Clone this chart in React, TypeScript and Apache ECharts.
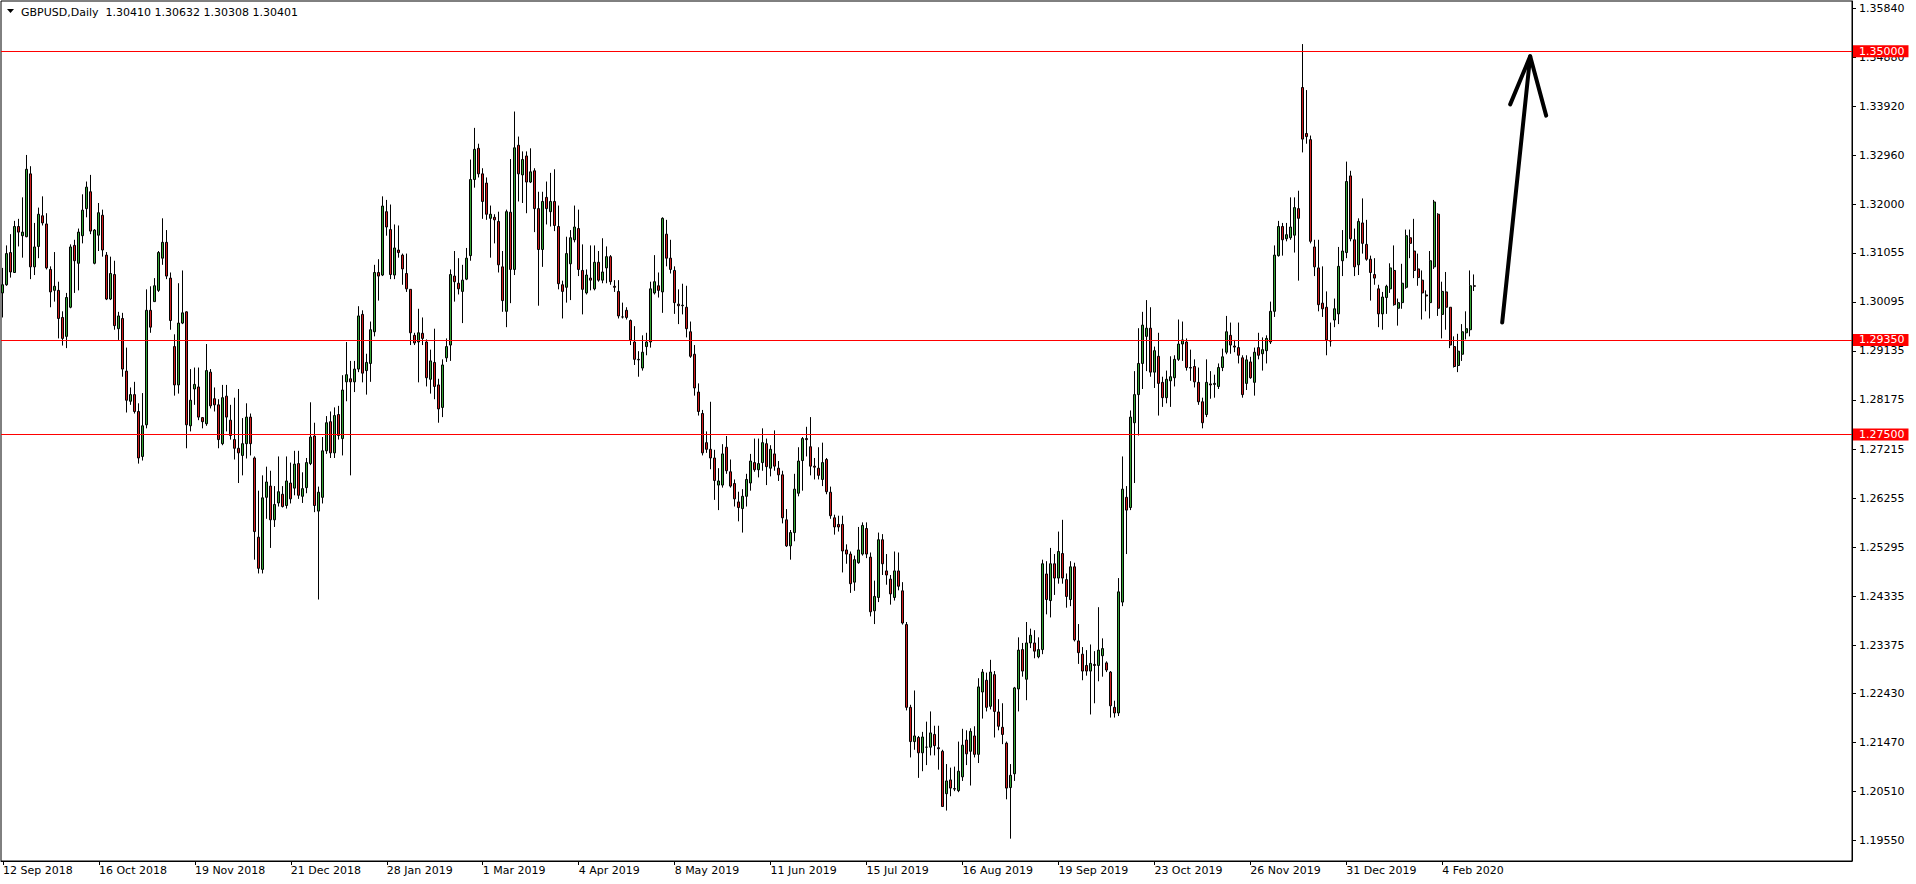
import React, { useEffect, useRef } from "react";
import * as echarts from "echarts";

const FONT = "DejaVu Sans";
const UP = "#33a333";
const DOWN = "#d01c1c";

const TITLE = "GBPUSD,Daily  1.30410 1.30632 1.30308 1.30401";

const OPEN = [
  1.3027, 1.3043, 1.3106, 1.3067, 1.3157, 1.3139, 1.3137, 1.3260, 1.3078, 1.3118,
  1.3178, 1.3162, 1.3073, 1.3032, 1.3032, 1.2979, 1.2942, 1.2999, 1.3120, 1.3085,
  1.3139, 1.3192, 1.3225, 1.3085, 1.3140, 1.3179, 1.3101, 1.3015, 1.3063, 1.2957,
  1.2977, 1.2874, 1.2815, 1.2828, 1.2795, 1.2707, 1.2769, 1.2993, 1.3010, 1.3032,
  1.3095, 1.3126, 1.3056, 1.2922, 1.2847, 1.2968, 1.2990, 1.2767, 1.2839, 1.2843,
  1.2783, 1.2771, 1.2872, 1.2820, 1.2808, 1.2732, 1.2825, 1.2778, 1.2740, 1.2723,
  1.2709, 1.2732, 1.2784, 1.2704, 1.2549, 1.2486, 1.2627, 1.2649, 1.2583, 1.2616,
  1.2633, 1.2611, 1.2655, 1.2645, 1.2693, 1.2629, 1.2646, 1.2693, 1.2747, 1.2600,
  1.2627, 1.2718, 1.2775, 1.2714, 1.2789, 1.2742, 1.2853, 1.2859, 1.2853, 1.2878,
  1.2985, 1.2875, 1.2889, 1.2951, 1.3067, 1.3062, 1.3186, 1.3151, 1.3062, 1.3111,
  1.3101, 1.3065, 1.3034, 1.2944, 1.2931, 1.2948, 1.2931, 1.2858, 1.2891, 1.2847,
  1.2803, 1.2900, 1.2925, 1.3060, 1.3046, 1.3030, 1.3054, 1.3100, 1.3249, 1.3310,
  1.3260, 1.3242, 1.3173, 1.3175, 1.3167, 1.3078, 1.2991, 1.3185, 1.3073, 1.3316,
  1.3258, 1.3295, 1.3244, 1.3266, 1.3192, 1.3112, 1.3214, 1.3186, 1.3206, 1.3157,
  1.3043, 1.3038, 1.3084, 1.3131, 1.3153, 1.3071, 1.3027, 1.3056, 1.3035, 1.3087,
  1.3052, 1.3076, 1.3098, 1.3040, 1.3030, 1.2980, 1.2993, 1.2973, 1.2931, 1.2897,
  1.2880, 1.2922, 1.2931, 1.3027, 1.3041, 1.3029, 1.3142, 1.3095, 1.3071, 1.3005,
  1.3002, 1.2999, 1.2951, 1.2907, 1.2833, 1.2791, 1.2734, 1.2721, 1.2704, 1.2651,
  1.2651, 1.2725, 1.2677, 1.2654, 1.2618, 1.2605, 1.2629, 1.2655, 1.2695, 1.2681,
  1.2695, 1.2732, 1.2684, 1.2712, 1.2684, 1.2671, 1.2583, 1.2532, 1.2558, 1.2635,
  1.2699, 1.2742, 1.2726, 1.2688, 1.2684, 1.2662, 1.2701, 1.2637, 1.2587, 1.2574,
  1.2574, 1.2524, 1.2516, 1.2461, 1.2499, 1.2516, 1.2566, 1.2510, 1.2405, 1.2431,
  1.2544, 1.2483, 1.2467, 1.2431, 1.2483, 1.2444, 1.2378, 1.2216, 1.2149, 1.2157,
  1.2127, 1.2138, 1.2138, 1.2163, 1.2137, 1.2130, 1.2047, 1.2074, 1.2057, 1.2053,
  1.2080, 1.2152, 1.2130, 1.2160, 1.2124, 1.2246, 1.2269, 1.2218, 1.2280, 1.2207,
  1.2177, 1.2146, 1.2059, 1.2086, 1.2252, 1.2329, 1.2271, 1.2342, 1.2342, 1.2315,
  1.2329, 1.2477, 1.2425, 1.2497, 1.2469, 1.2517, 1.2466, 1.2427, 1.2491, 1.2346,
  1.2320, 1.2298, 1.2287, 1.2300, 1.2298, 1.2317, 1.2303, 1.2285, 1.2216, 1.2205,
  1.2422, 1.2627, 1.2607, 1.2773, 1.2828, 1.2889, 1.2942, 1.2958, 1.2872, 1.2903,
  1.2852, 1.2822, 1.2855, 1.2861, 1.2897, 1.2927, 1.2931, 1.2881, 1.2883, 1.2852,
  1.2814, 1.2789, 1.2849, 1.2848, 1.2844, 1.2881, 1.2911, 1.2944, 1.2923, 1.2920,
  1.2900, 1.2850, 1.2892, 1.2852, 1.2920, 1.2908, 1.2914, 1.2931, 1.2991, 1.3100,
  1.3157, 1.3133, 1.3135, 1.3140, 1.3192, 1.3429, 1.3339, 1.3327, 1.3117, 1.3076,
  1.3007, 1.2999, 1.2933, 1.2974, 1.2986, 1.3090, 1.3106, 1.3256, 1.3131, 1.3082,
  1.3164, 1.3122, 1.3093, 1.3063, 1.3035, 1.2986, 1.3018, 1.3035, 1.3071, 1.2997,
  1.3008, 1.3038, 1.3135, 1.3109, 1.3074, 1.3052, 1.3023, 1.3008, 1.3078, 1.3181,
  1.2985, 1.3029, 1.2999, 1.2922, 1.2885, 1.2907, 1.2949, 1.2955, 1.30410,
];

const CLOSE = [
  1.3043, 1.3104, 1.3068, 1.3157, 1.3146, 1.3146, 1.3269, 1.3078, 1.3117, 1.3181,
  1.3164, 1.3076, 1.3029, 1.3040, 1.2977, 1.2938, 1.3018, 1.3117, 1.3090, 1.3146,
  1.3189, 1.3234, 1.3148, 1.3150, 1.3184, 1.3111, 1.3015, 1.3065, 1.2963, 1.2982,
  1.2878, 1.2817, 1.2828, 1.2795, 1.2704, 1.2767, 1.2993, 1.2960, 1.3041, 1.3106,
  1.3126, 1.3060, 1.2973, 1.2847, 1.2968, 1.2988, 1.2769, 1.2817, 1.2848, 1.2784,
  1.2775, 1.2875, 1.2806, 1.2808, 1.2740, 1.2822, 1.2784, 1.2748, 1.2723, 1.2714,
  1.2732, 1.2784, 1.2732, 1.2560, 1.2488, 1.2626, 1.2657, 1.2583, 1.2613, 1.2638,
  1.2609, 1.2659, 1.2624, 1.2692, 1.2631, 1.2644, 1.2695, 1.2745, 1.2611, 1.2637,
  1.2718, 1.2773, 1.2714, 1.2787, 1.2748, 1.2837, 1.2867, 1.2853, 1.2878, 1.2982,
  1.2870, 1.2891, 1.2955, 1.3067, 1.3060, 1.3197, 1.3156, 1.3063, 1.3115, 1.3106,
  1.3074, 1.3035, 1.2949, 1.2929, 1.2949, 1.2938, 1.2861, 1.2894, 1.2844, 1.2800,
  1.2886, 1.2922, 1.3063, 1.3049, 1.3035, 1.3052, 1.3095, 1.3249, 1.3308, 1.3260,
  1.3206, 1.3181, 1.3181, 1.3170, 1.3082, 1.3012, 1.3186, 1.3073, 1.3311, 1.3260,
  1.3288, 1.3244, 1.3264, 1.3192, 1.3112, 1.3206, 1.3192, 1.3206, 1.3159, 1.3045,
  1.3030, 1.3104, 1.3135, 1.3156, 1.3073, 1.3034, 1.3062, 1.3052, 1.3087, 1.3052,
  1.3068, 1.3098, 1.3049, 1.3038, 1.2982, 1.2980, 1.2979, 1.2935, 1.2897, 1.2896,
  1.2911, 1.2931, 1.3035, 1.3049, 1.3032, 1.3173, 1.3095, 1.3073, 1.3008, 1.3002,
  1.3003, 1.2957, 1.2903, 1.2841, 1.2795, 1.2714, 1.2721, 1.2704, 1.2660, 1.2659,
  1.2712, 1.2679, 1.2649, 1.2624, 1.2607, 1.2629, 1.2662, 1.2698, 1.2681, 1.2693,
  1.2734, 1.2687, 1.2721, 1.2688, 1.2671, 1.2587, 1.2532, 1.2558, 1.2643, 1.2698,
  1.2742, 1.2740, 1.2688, 1.2686, 1.2670, 1.2695, 1.2638, 1.2591, 1.2569, 1.2569,
  1.2522, 1.2516, 1.2458, 1.2505, 1.2524, 1.2572, 1.2516, 1.2403, 1.2433, 1.2544,
  1.2497, 1.2475, 1.2438, 1.2483, 1.2453, 1.2381, 1.2216, 1.2149, 1.2160, 1.2127,
  1.2158, 1.2138, 1.2166, 1.2141, 1.2135, 1.2022, 1.2072, 1.2058, 1.2056, 1.2091,
  1.2142, 1.2125, 1.2169, 1.2124, 1.2256, 1.2285, 1.2216, 1.2285, 1.2208, 1.2179,
  1.2163, 1.2058, 1.2083, 1.2254, 1.2328, 1.2287, 1.2342, 1.2357, 1.2326, 1.2329,
  1.2497, 1.2427, 1.2497, 1.2469, 1.2521, 1.2469, 1.2433, 1.2491, 1.2348, 1.2323,
  1.2287, 1.2287, 1.2302, 1.2298, 1.2328, 1.2331, 1.2289, 1.2219, 1.2205, 1.2442,
  1.2643, 1.2602, 1.2784, 1.2828, 1.2889, 1.2964, 1.2958, 1.2872, 1.2914, 1.2850,
  1.2822, 1.2858, 1.2863, 1.2897, 1.2927, 1.2935, 1.2881, 1.2880, 1.2853, 1.2814,
  1.2773, 1.2852, 1.2847, 1.2850, 1.2881, 1.2902, 1.2951, 1.2925, 1.2921, 1.2905,
  1.2828, 1.2896, 1.2861, 1.2911, 1.2905, 1.2916, 1.2938, 1.2991, 1.3101, 1.3157,
  1.3131, 1.3141, 1.3156, 1.3194, 1.3173, 1.3328, 1.3333, 1.3128, 1.3078, 1.3004,
  1.2996, 1.2935, 1.2933, 1.2996, 1.3079, 1.3109, 1.3245, 1.3133, 1.3078, 1.3167,
  1.3124, 1.3093, 1.3067, 1.3056, 1.2986, 1.3019, 1.3040, 1.3076, 1.3004, 1.3008,
  1.3046, 1.3139, 1.3124, 1.3071, 1.3057, 1.3027, 1.3021, 1.3090, 1.3205, 1.2997,
  1.3030, 1.2999, 1.2925, 1.2883, 1.2913, 1.2951, 1.2957, 1.3041, 1.30401,
];

const LOW = [
  1.2979, 1.3041, 1.3057, 1.3066, 1.3118, 1.3096, 1.3136, 1.3054, 1.3062, 1.3095,
  1.3159, 1.3073, 1.2999, 1.3010, 1.2938, 1.2924, 1.2919, 1.2997, 1.3027, 1.3032,
  1.3124, 1.3175, 1.3142, 1.3083, 1.3109, 1.3098, 1.3013, 1.3013, 1.2955, 1.2935,
  1.2863, 1.2793, 1.2808, 1.2791, 1.2693, 1.2699, 1.2762, 1.2949, 1.3010, 1.3029,
  1.3082, 1.3054, 1.2955, 1.2826, 1.2830, 1.2966, 1.2723, 1.2756, 1.2808, 1.2778,
  1.2762, 1.2767, 1.2801, 1.2795, 1.2723, 1.2729, 1.2756, 1.2740, 1.2701, 1.2655,
  1.2670, 1.2703, 1.2709, 1.2505, 1.2478, 1.2478, 1.2585, 1.2528, 1.2569, 1.2609,
  1.2607, 1.2605, 1.2615, 1.2631, 1.2624, 1.2616, 1.2635, 1.2690, 1.2598, 1.2427,
  1.2615, 1.2712, 1.2704, 1.2704, 1.2740, 1.2709, 1.2815, 1.2670, 1.2833, 1.2872,
  1.2852, 1.2828, 1.2853, 1.2942, 1.3012, 1.3060, 1.3139, 1.3054, 1.3054, 1.3096,
  1.3043, 1.3029, 1.2925, 1.2925, 1.2852, 1.2925, 1.2844, 1.2830, 1.2819, 1.2773,
  1.2784, 1.2892, 1.2894, 1.3010, 1.3024, 1.2968, 1.3052, 1.3090, 1.3233, 1.3253,
  1.3172, 1.3170, 1.3096, 1.3124, 1.3067, 1.2990, 1.2960, 1.3007, 1.3062, 1.3206,
  1.3203, 1.3183, 1.3242, 1.3146, 1.3002, 1.3078, 1.3161, 1.3157, 1.3148, 1.3034,
  1.2977, 1.3008, 1.3013, 1.3126, 1.3060, 1.2985, 1.3024, 1.3032, 1.3032, 1.3049,
  1.3046, 1.3046, 1.3043, 1.3029, 1.2977, 1.2977, 1.2975, 1.2925, 1.2886, 1.2863,
  1.2875, 1.2905, 1.2920, 1.3024, 1.3018, 1.2988, 1.3079, 1.3065, 1.2986, 1.2966,
  1.2985, 1.2940, 1.2900, 1.2826, 1.2787, 1.2709, 1.2714, 1.2682, 1.2622, 1.2602,
  1.2646, 1.2673, 1.2646, 1.2609, 1.2580, 1.2558, 1.2609, 1.2640, 1.2677, 1.2666,
  1.2679, 1.2651, 1.2668, 1.2679, 1.2659, 1.2576, 1.2530, 1.2505, 1.2541, 1.2629,
  1.2640, 1.2707, 1.2670, 1.2662, 1.2662, 1.2649, 1.2633, 1.2585, 1.2554, 1.2560,
  1.2480, 1.2497, 1.2440, 1.2444, 1.2497, 1.2513, 1.2508, 1.2394, 1.2379, 1.2422,
  1.2475, 1.2456, 1.2417, 1.2425, 1.2445, 1.2378, 1.2210, 1.2118, 1.2133, 1.2078,
  1.2091, 1.2103, 1.2122, 1.2122, 1.2094, 1.2021, 1.2014, 1.2042, 1.2052, 1.2050,
  1.2072, 1.2103, 1.2063, 1.2118, 1.2107, 1.2194, 1.2208, 1.2212, 1.2157, 1.2171,
  1.2144, 1.2036, 1.1959, 1.2072, 1.2208, 1.2276, 1.2230, 1.2332, 1.2312, 1.2312,
  1.2320, 1.2398, 1.2392, 1.2436, 1.2458, 1.2458, 1.2411, 1.2414, 1.2345, 1.2301,
  1.2269, 1.2278, 1.2202, 1.2224, 1.2267, 1.2276, 1.2285, 1.2196, 1.2196, 1.2199,
  1.2414, 1.2516, 1.2602, 1.2655, 1.2748, 1.2839, 1.2874, 1.2863, 1.2841, 1.2787,
  1.2804, 1.2811, 1.2804, 1.2844, 1.2894, 1.2894, 1.2875, 1.2855, 1.2842, 1.2808,
  1.2762, 1.2784, 1.2820, 1.2822, 1.2839, 1.2874, 1.2907, 1.2908, 1.2911, 1.2889,
  1.2822, 1.2837, 1.2859, 1.2826, 1.2897, 1.2875, 1.2889, 1.2927, 1.2980, 1.3098,
  1.3100, 1.3128, 1.3131, 1.3106, 1.3051, 1.3302, 1.3319, 1.3124, 1.3060, 1.2991,
  1.2980, 1.2905, 1.2922, 1.2960, 1.2966, 1.3060, 1.3095, 1.3128, 1.3060, 1.3062,
  1.3104, 1.3090, 1.3012, 1.3043, 1.2960, 1.2955, 1.2986, 1.3027, 1.3002, 1.2963,
  1.2996, 1.3035, 1.3095, 1.3056, 1.3041, 1.2975, 1.2991, 1.2977, 1.3074, 1.2982,
  1.2938, 1.2955, 1.2919, 1.2881, 1.2872, 1.2894, 1.2936, 1.2942, 1.30308,
];

const HIGH = [
  1.3076, 1.3120, 1.3142, 1.3168, 1.3172, 1.3214, 1.3297, 1.3275, 1.3164, 1.3194,
  1.3216, 1.3183, 1.3079, 1.3107, 1.3049, 1.2991, 1.3027, 1.3122, 1.3131, 1.3153,
  1.3220, 1.3245, 1.3258, 1.3152, 1.3203, 1.3190, 1.3107, 1.3098, 1.3090, 1.2990,
  1.2988, 1.2920, 1.2842, 1.2853, 1.2811, 1.2831, 1.3034, 1.3040, 1.3056, 1.3109,
  1.3173, 1.3150, 1.3067, 1.2946, 1.3046, 1.3071, 1.2991, 1.2878, 1.2881, 1.2881,
  1.2784, 1.2927, 1.2878, 1.2842, 1.2819, 1.2847, 1.2847, 1.2808, 1.2822, 1.2839,
  1.2782, 1.2811, 1.2791, 1.2707, 1.2640, 1.2670, 1.2687, 1.2679, 1.2649, 1.2707,
  1.2649, 1.2707, 1.2695, 1.2718, 1.2718, 1.2676, 1.2704, 1.2813, 1.2773, 1.2648,
  1.2745, 1.2786, 1.2795, 1.2803, 1.2806, 1.2866, 1.2931, 1.2894, 1.2894, 1.3001,
  1.2993, 1.2908, 1.2971, 1.3082, 1.3093, 1.3216, 1.3209, 1.3200, 1.3161, 1.3159,
  1.3104, 1.3104, 1.3034, 1.2949, 1.2996, 1.2979, 1.2936, 1.2916, 1.2957, 1.2859,
  1.2897, 1.2938, 1.3073, 1.3109, 1.3095, 1.3082, 1.3115, 1.3288, 1.3350, 1.3319,
  1.3271, 1.3253, 1.3198, 1.3181, 1.3186, 1.3109, 1.3190, 1.3289, 1.3382, 1.3333,
  1.3304, 1.3304, 1.3310, 1.3271, 1.3225, 1.3225, 1.3245, 1.3262, 1.3269, 1.3198,
  1.3051, 1.3137, 1.3150, 1.3198, 1.3190, 1.3122, 1.3073, 1.3120, 1.3120, 1.3109,
  1.3134, 1.3118, 1.3101, 1.3052, 1.3052, 1.3008, 1.2999, 1.2975, 1.2962, 1.2913,
  1.2944, 1.2949, 1.3049, 1.3101, 1.3067, 1.3175, 1.3170, 1.3131, 1.3079, 1.3034,
  1.3045, 1.3041, 1.2971, 1.2925, 1.2850, 1.2798, 1.2756, 1.2814, 1.2720, 1.2684,
  1.2731, 1.2747, 1.2701, 1.2662, 1.2638, 1.2643, 1.2673, 1.2712, 1.2742, 1.2742,
  1.2762, 1.2742, 1.2729, 1.2758, 1.2698, 1.2679, 1.2604, 1.2563, 1.2673, 1.2725,
  1.2745, 1.2765, 1.2784, 1.2704, 1.2725, 1.2734, 1.2704, 1.2648, 1.2593, 1.2591,
  1.2591, 1.2535, 1.2521, 1.2513, 1.2569, 1.2578, 1.2578, 1.2519, 1.2464, 1.2558,
  1.2555, 1.2516, 1.2475, 1.2521, 1.2519, 1.2461, 1.2383, 1.2221, 1.2249, 1.2160,
  1.2168, 1.2188, 1.2208, 1.2180, 1.2180, 1.2133, 1.2105, 1.2098, 1.2100, 1.2149,
  1.2174, 1.2171, 1.2175, 1.2179, 1.2273, 1.2291, 1.2284, 1.2309, 1.2287, 1.2232,
  1.2224, 1.2149, 1.2105, 1.2256, 1.2353, 1.2342, 1.2383, 1.2370, 1.2367, 1.2353,
  1.2505, 1.2502, 1.2528, 1.2516, 1.2560, 1.2583, 1.2478, 1.2502, 1.2499, 1.2379,
  1.2334, 1.2328, 1.2339, 1.2326, 1.2412, 1.2351, 1.2306, 1.2287, 1.2229, 1.2469,
  1.2707, 1.2649, 1.2797, 1.2874, 1.2958, 1.2990, 1.3013, 1.2999, 1.2922, 1.2949,
  1.2863, 1.2875, 1.2903, 1.2905, 1.2975, 1.2971, 1.2938, 1.2916, 1.2897, 1.2881,
  1.2822, 1.2897, 1.2874, 1.2867, 1.2889, 1.2918, 1.2982, 1.2969, 1.2935, 1.2969,
  1.2905, 1.2905, 1.2902, 1.2920, 1.2949, 1.2940, 1.2944, 1.3010, 1.3120, 1.3168,
  1.3164, 1.3164, 1.3214, 1.3214, 1.3227, 1.3514, 1.3424, 1.3335, 1.3131, 1.3131,
  1.3079, 1.3030, 1.2969, 1.3016, 1.3117, 1.3150, 1.3284, 1.3266, 1.3153, 1.3173,
  1.3212, 1.3170, 1.3100, 1.3095, 1.3043, 1.3029, 1.3043, 1.3085, 1.3120, 1.3016,
  1.3084, 1.3151, 1.3151, 1.3172, 1.3104, 1.3071, 1.3032, 1.3109, 1.3209, 1.3183,
  1.3049, 1.3068, 1.2999, 1.2942, 1.2947, 1.2966, 1.2991, 1.3071, 1.30632,
];

// date labels, one every LABEL_STEP bars starting at bar 0
const X_LABELS = [
  "12 Sep 2018", "16 Oct 2018", "19 Nov 2018", "21 Dec 2018", "28 Jan 2019", "1 Mar 2019",
  "4 Apr 2019", "8 May 2019", "11 Jun 2019", "15 Jul 2019", "16 Aug 2019", "19 Sep 2019",
  "23 Oct 2019", "26 Nov 2019", "31 Dec 2019", "4 Feb 2020",
];
const LABEL_STEP = 24;
const SLOT_COUNT = 463;

const Y_TICKS = [
  1.3584, 1.3488, 1.3392, 1.3296, 1.32, 1.31055, 1.30095, 1.29135, 1.28175, 1.27215,
  1.26255, 1.25295, 1.24335, 1.23375, 1.2243, 1.2147, 1.2051, 1.1955,
];
const Y_MIN = 1.19153;
const Y_MAX = 1.35983;

const LEVELS = [1.35, 1.2935, 1.275];
const LAST_PRICE = 1.30401;

// arrow drawn on the chart, in [bar index, price]
const ARROW_SHAFT = [[375.1, 1.2969], [382.3, 1.349]];
const ARROW_HEAD = [[377.4, 1.3396], [382.3, 1.349], [385.75, 1.3374]];

export default function App() {
  const ref = useRef<HTMLDivElement>(null);

  useEffect(() => {
    const el = ref.current;
    if (!el) return;
    const chart = echarts.init(el, null, { renderer: "svg" });

    const candles = OPEN.map((o, i) => [o, CLOSE[i], LOW[i], HIGH[i]]);
    const slots = Array.from({ length: SLOT_COUNT }, (_, i) => String(i));
    const showLabel = (i: number) => i % LABEL_STEP === 0 && i / LABEL_STEP < X_LABELS.length;
    const tag = (bg: string) => ({
      show: true,
      position: "end",
      distance: 1,
      formatter: (p: any) => Number(p.value).toFixed(5),
      color: "#ffffff",
      backgroundColor: bg,
      padding: [1, 4, 0, 6],
      fontFamily: FONT,
      fontSize: 11,
      lineHeight: 11,
    });

    chart.setOption({
      animation: false,
      backgroundColor: "#ffffff",
      grid: {
        left: 1,
        right: 64,
        top: 1,
        bottom: 23,
        show: true,
        borderColor: "#000000",
        borderWidth: 1,
        backgroundColor: "#ffffff",
      },
      xAxis: {
        type: "category",
        data: slots,
        boundaryGap: true,
        axisLine: { show: true, lineStyle: { color: "#000000", width: 1 } },
        axisTick: {
          show: true,
          interval: (i: number) => showLabel(i),
          alignWithLabel: true,
          length: 4,
          lineStyle: { color: "#000000" },
        },
        axisLabel: {
          show: true,
          interval: (i: number) => showLabel(i),
          formatter: (_v: string, i: number) => X_LABELS[i / LABEL_STEP] ?? "",
          align: "left",
          color: "#000000",
          fontFamily: FONT,
          fontSize: 11,
          margin: 4,
        },
        splitLine: { show: false },
      },
      yAxis: {
        type: "value",
        position: "right",
        min: Y_MIN,
        max: Y_MAX,
        scale: true,
        axisLine: { show: true, lineStyle: { color: "#000000" } },
        axisTick: { show: true, customValues: Y_TICKS, length: 4, lineStyle: { color: "#000000" } },
        axisLabel: {
          show: true,
          customValues: Y_TICKS,
          formatter: (v: number) => v.toFixed(5),
          color: "#000000",
          fontFamily: FONT,
          fontSize: 11,
          margin: 7,
        },
        splitLine: { show: false },
      },
      series: [
        {
          type: "candlestick",
          data: candles,
          barWidth: 2.5,
          itemStyle: {
            color: UP,
            color0: DOWN,
            borderColor: "#000000",
            borderColor0: "#000000",
            borderColorDoji: "#000000",
            borderWidth: 1,
          },
          markLine: {
            silent: true,
            precision: 5,
            symbol: ["none", "none"],
            animation: false,
            data: [
              ...LEVELS.map((v) => ({
                yAxis: v,
                lineStyle: { color: "#ff0000", width: 1, type: "solid" },
                label: tag("#ff0000"),
              })),
              {
                yAxis: LAST_PRICE,
                lineStyle: { color: "#000000", width: 1, opacity: 0 },
                label: tag("#000000"),
              },
            ],
          },
        },
      ],
    });

    const px = (p: number[]) => chart.convertToPixel({ gridIndex: 0 }, p) as number[];
    chart.setOption({
      graphic: [
        {
          type: "polygon",
          z: 100,
          shape: { points: [[7, 9], [14, 9], [10.5, 13]] },
          style: { fill: "#000000" },
        },
        {
          type: "text",
          z: 100,
          x: 21,
          y: 12,
          style: {
            text: TITLE,
            fill: "#000000",
            fontFamily: FONT,
            fontSize: 11,
            verticalAlign: "middle",
          },
        },
        {
          type: "polyline",
          z: 100,
          shape: { points: ARROW_SHAFT.map(px) },
          style: { stroke: "#000000", lineWidth: 4, lineCap: "round", lineJoin: "round", fill: null },
        },
        {
          type: "polyline",
          z: 100,
          shape: { points: ARROW_HEAD.map(px) },
          style: { stroke: "#000000", lineWidth: 4, lineCap: "round", lineJoin: "round", fill: null },
        },
      ],
    });

    return () => chart.dispose();
  }, []);

  return (
    <div
      ref={ref}
      style={{ position: "fixed", left: 0, top: 0, width: 1916, height: 884, background: "#ffffff" }}
    />
  );
}
